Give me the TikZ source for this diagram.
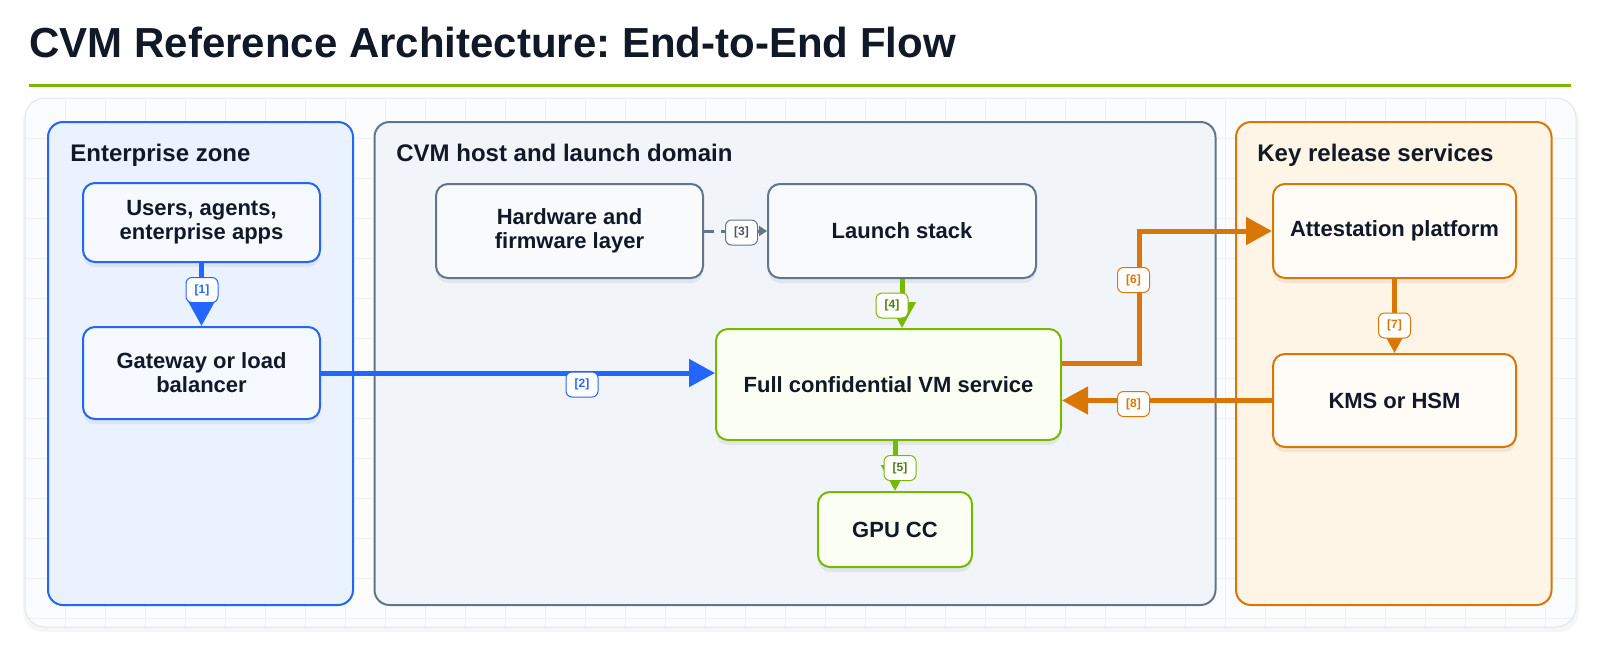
\documentclass[tikz,border=0pt]{standalone}
\usepackage{fontspec}
\setmainfont{Liberation Sans}
\usepackage{xcolor}
\usepackage{tikz}
\usetikzlibrary{arrows.meta, calc, positioning, shadows}
\frenchspacing

\definecolor{inkdark}{HTML}{111827}
\definecolor{entblue}{HTML}{2266FF}
\definecolor{entfill}{HTML}{EBF2FF}
\definecolor{entnode}{HTML}{F6F9FF}
\definecolor{hostgray}{HTML}{64748B}
\definecolor{hosttext}{HTML}{475569}
\definecolor{hostfill}{HTML}{F1F5F9}
\definecolor{hostnode}{HTML}{F8FAFC}
\definecolor{keyorange}{HTML}{D97706}
\definecolor{keyfill}{HTML}{FEF5E6}
\definecolor{keynode}{HTML}{FFFCF7}
\definecolor{nvgreen}{HTML}{76B900}
\definecolor{greentext}{HTML}{4D7C0F}
\definecolor{vmfill}{HTML}{FBFFF3}
\definecolor{panelfill}{HTML}{FBFCFD}
\definecolor{panelgrid}{HTML}{EDF0F4}
\definecolor{panelrule}{HTML}{DFE5EC}

\tikzset{
  zone/.style={draw=#1, line width=1pt, rounded corners=7.5pt},
  zonetitle/.style={anchor=base west, inner sep=0pt, text=inkdark,
    font=\fontsize{12}{14}\selectfont\bfseries},
  box/.style={draw=#1, line width=1pt, rounded corners=6pt, align=center,
    inner sep=0pt, text=inkdark, font=\fontsize{11}{12}\selectfont\bfseries,
    drop shadow={shadow xshift=0pt, shadow yshift=-2.5pt, opacity=0.06, fill=black}},
  flow/.style={draw=#1, line width=2.5pt, -{Triangle[length=13pt,width=13.5pt]}},
  steplabel/.style={draw=#1, fill=white, text=#1, line width=0.5pt,
    rounded corners=3pt, minimum width=16pt, minimum height=12.5pt,
    inner sep=0pt, font=\fontsize{6}{7}\selectfont\bfseries},
  gridline/.style={panelgrid, line width=0.5pt}
}

\begin{document}
\begin{tikzpicture}[x=0.5pt,y=-0.5pt]
\useasboundingbox (0,0) rectangle (1600,660);

% title and rule
\node[anchor=base west, inner sep=0pt, text=inkdark,
  font=\fontsize{21}{24}\selectfont\bfseries] (title) at (29,57)
  {CVM Reference Architecture: End-to-End Flow};
\draw[nvgreen, line width=1.5pt] (29,85) -- (1571,85);

% panel with grid
\fill[black, opacity=0.035, rounded corners=10pt] (23,101) rectangle (1579,632);
\begin{scope}
  \clip[rounded corners=10pt] (25,98) rectangle (1576,627);
  \fill[panelfill] (25,98) rectangle (1576,627);
  \foreach \gx in {65,105,...,1545} \draw[gridline] (\gx,98) -- (\gx,627);
  \foreach \gy in {138,178,...,618} \draw[gridline] (25,\gy) -- (1576,\gy);
\end{scope}
\draw[panelrule, line width=0.5pt, rounded corners=10pt] (25,98) rectangle (1576,627);

% zones
\draw[zone=entblue, fill=entfill] (48,122) rectangle (353,605);
\draw[zone=hostgray, fill=hostfill] (374.5,122) rectangle (1215.5,605);
\draw[zone=keyorange, fill=keyfill] (1236,122) rectangle (1551.5,605);
\node[zonetitle] (entT) at (70,161) {Enterprise zone};
\node[zonetitle] (hostT) at (396,161) {CVM host and launch domain};
\node[zonetitle] (keyT) at (1257,161) {Key release services};

% nodes
\node[box=entblue, fill=entnode, minimum width=118.5pt, minimum height=39.5pt] (users) at (201.5,222.5) {Users, agents,\\enterprise apps};
\node[box=entblue, fill=entnode, minimum width=118.5pt, minimum height=46pt] (gw) at (201.5,373) {Gateway or load\\balancer};
\node[box=hostgray, fill=hostnode, minimum width=133.5pt, minimum height=47pt] (hw) at (569.5,231) {Hardware and\\firmware layer};
\node[box=hostgray, fill=hostnode, minimum width=134pt, minimum height=47pt] (launch) at (902,231) {Launch stack};
\node[box=nvgreen, fill=vmfill, minimum width=172.5pt, minimum height=55.5pt] (vm) at (888.5,384.5) {Full confidential VM service};
\node[box=nvgreen, fill=vmfill, minimum width=77pt, minimum height=37.5pt] (gpu) at (895,529.5) {GPU CC};
\node[box=keyorange, fill=keynode, minimum width=121.5pt, minimum height=47pt] (attest) at (1394.5,231) {Attestation platform};
\node[box=keyorange, fill=keynode, minimum width=121.5pt, minimum height=46.5pt] (kms) at (1394.5,400.5) {KMS or HSM};

% connectors
\draw[flow=entblue] (users.south) -- (gw.north);
\draw[flow=entblue] (gw.east) -- (vm.west |- gw.east);
\draw[hostgray, line width=1.5pt, dash pattern=on 5pt off 3.5pt,
  -{Triangle[length=4pt,width=5pt]}] (hw.east) -- (launch.west);
\draw[flow=nvgreen] (launch.south) -- (launch.south |- vm.north);
\draw[flow=nvgreen] (gpu.north |- vm.south) -- (gpu.north);
\draw[flow=keyorange] ([yshift=10.75pt]vm.east) -- ++(77,0) |- (attest.west);
\draw[flow=keyorange] (attest.south) -- (kms.north);
\draw[flow=keyorange] (kms.west) -- (vm.east |- kms.west);

% step labels
\node[steplabel=entblue] (l1) at (202,290) {[1]};
\node[steplabel=entblue] (l2) at (582,384.5) {[2]};
\node[steplabel=hostgray, text=hosttext] (l3) at (741.5,232.5) {[3]};
\node[steplabel=nvgreen, text=greentext] (l4) at (892,305.5) {[4]};
\node[steplabel=nvgreen, text=greentext] (l5) at (900,468) {[5]};
\node[steplabel=keyorange] (l6) at (1133.5,280) {[6]};
\node[steplabel=keyorange] (l7) at (1394.5,325.5) {[7]};
\node[steplabel=keyorange] (l8) at (1133.5,404) {[8]};
\end{tikzpicture}
\end{document}
